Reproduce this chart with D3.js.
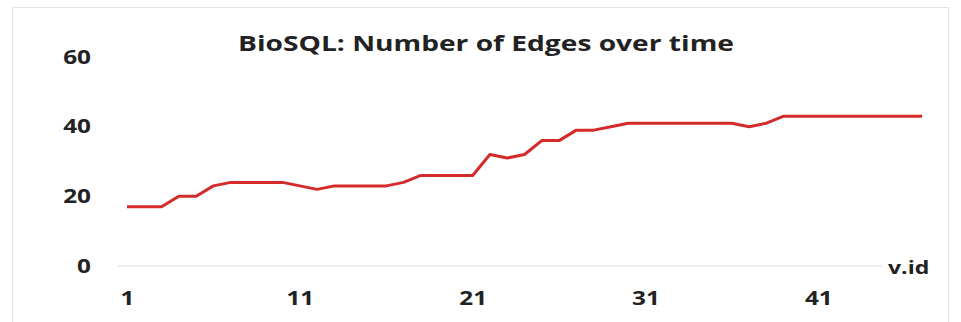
<!DOCTYPE html>
<html>
<head>
<meta charset="utf-8">
<script src="https://cdn.jsdelivr.net/npm/d3@7"></script>
<style>
  body { margin: 0; background: #fff; }
  text { font-family: "Open Sans", "DejaVu Sans", sans-serif; font-weight: bold; fill: #222; }
</style>
</head>
<body>
<div id="chart-area"></div>
<script>
/* Data */
var ids = d3.range(1, 48);
var edges = [17,17,17,20,20,23,24,24,24,24,23,22,23,23,23,23,24,26,26,26,26,32,31,32,36,36,39,39,40,41,
             41,41,41,41,41,41,40,41,43,43,43,43,43,43,43,43,43];
var xTicks = [1, 11, 21, 31, 41];
var yTicks = [0, 20, 40, 60];

var W = 961, H = 322;
// the source picture is stretched sideways, so text gets a horizontal scale
var stretch = "scale(1.28,1)";

var svg = d3.select("#chart-area").append("svg")
  .attr("width", W)
  .attr("height", H);

// frame
svg.append("rect")
  .attr("x", 12.5).attr("y", 7.5)
  .attr("width", 936).attr("height", 330)
  .attr("fill", "none")
  .attr("stroke", "#e4e4e4");

/* Scales */
var x = d3.scaleLinear().domain([1, 47]).range([127, 922]);
var y = d3.scaleLinear().domain([0, 60]).range([266, 57]);

// zero line
svg.append("line")
  .attr("x1", 118).attr("x2", 882)
  .attr("y1", y(0)).attr("y2", y(0))
  .attr("stroke", "#eeeeee")
  .attr("stroke-width", 2);

/* Axes */
var yAxis = svg.append("g")
  .attr("transform", "translate(91,0)")
  .call(d3.axisLeft(y).tickValues(yTicks).tickSize(0).tickPadding(0));
yAxis.select(".domain").remove();
yAxis.selectAll("text")
  .attr("font-size", 19)
  .attr("fill", "#222")
  .attr("transform", stretch);

var xAxis = svg.append("g")
  .attr("transform", "translate(0,292)")
  .call(d3.axisBottom(x).tickValues(xTicks).tickSize(0).tickPadding(0));
xAxis.select(".domain").remove();
xAxis.selectAll("text")
  .attr("font-size", 19)
  .attr("fill", "#222")
  .attr("transform", stretch);

// series
var line = d3.line()
  .x(function(d, i) { return x(ids[i]); })
  .y(function(d) { return y(d); });

svg.append("path")
  .datum(edges)
  .attr("d", line)
  .attr("fill", "none")
  .attr("stroke", "#d42a2a")
  .attr("stroke-width", 3)
  .attr("stroke-linejoin", "round");

/* Labels */
svg.append("text")
  .attr("transform", "translate(486,51) " + stretch)
  .attr("text-anchor", "middle")
  .attr("font-size", 22)
  .text("BioSQL: Number of Edges over time");

svg.append("text")
  .attr("transform", "translate(888,274) " + stretch)
  .attr("font-size", 18)
  .text("v.id");
</script>
</body>
</html>
